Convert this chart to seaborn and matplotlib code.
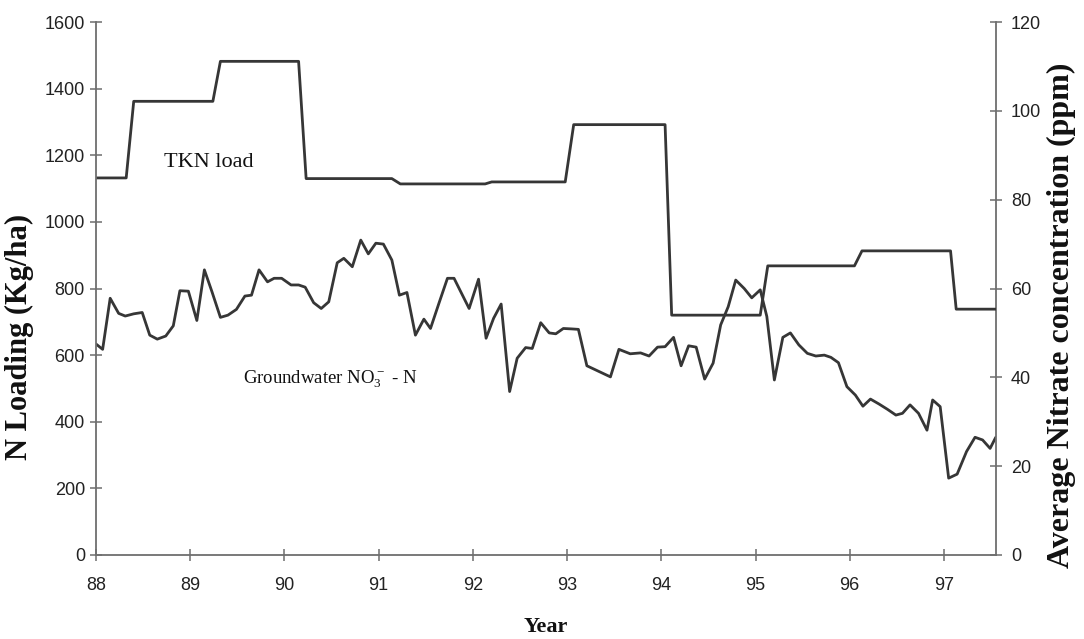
import matplotlib
matplotlib.use("Agg")
import matplotlib.pyplot as plt
import seaborn as sns
import pandas as pd

# TKN loading (kg/ha), plotted against the left axis
tkn_year = [88.00, 88.32, 88.40, 89.24, 89.32, 90.15, 90.23, 91.14, 91.23, 92.13,
            92.20, 92.98, 93.07, 94.04, 94.11, 95.05, 95.13, 96.05, 96.13, 97.07,
            97.13, 97.55]
tkn_load = [1132, 1132, 1362, 1362, 1482, 1482, 1130, 1130, 1114, 1114,
            1120, 1120, 1292, 1292, 720, 720, 868, 868, 913, 913,
            738, 738]

# Groundwater nitrate-N (ppm), plotted against the right axis
no3_year = [88.00, 88.07, 88.15, 88.24, 88.31, 88.40, 88.49, 88.57, 88.65, 88.74,
            88.82, 88.89, 88.98, 89.07, 89.15, 89.23, 89.32, 89.40, 89.49, 89.58,
            89.65, 89.73, 89.82, 89.89, 89.97, 90.07, 90.15, 90.22, 90.31, 90.39,
            90.47, 90.56, 90.63, 90.72, 90.81, 90.89, 90.97, 91.05, 91.14, 91.22,
            91.30, 91.39, 91.48, 91.55, 91.64, 91.73, 91.80, 91.88, 91.96, 92.06,
            92.14, 92.22, 92.30, 92.39, 92.47, 92.56, 92.63, 92.72, 92.81, 92.88,
            92.96, 93.05, 93.12, 93.21, 93.34, 93.46, 93.55, 93.67, 93.78, 93.87,
            93.96, 94.04, 94.13, 94.21, 94.29, 94.37, 94.46, 94.55, 94.63, 94.71,
            94.79, 94.88, 94.96, 95.05, 95.12, 95.20, 95.29, 95.37, 95.46, 95.55,
            95.64, 95.73, 95.80, 95.88, 95.97, 96.06, 96.14, 96.22, 96.31, 96.40,
            96.49, 96.56, 96.64, 96.73, 96.82, 96.88, 96.96, 97.05, 97.14, 97.24,
            97.33, 97.41, 97.49, 97.55]
no3_ppm = [47.5, 46.3, 57.8, 54.4, 53.8, 54.3, 54.6, 49.5, 48.6, 49.3,
           51.6, 59.5, 59.4, 52.8, 64.2, 59.3, 53.5, 54.0, 55.3, 58.3,
           58.5, 64.2, 61.5, 62.3, 62.3, 60.8, 60.8, 60.3, 56.8, 55.5,
           57.0, 65.8, 66.8, 64.9, 70.9, 67.8, 70.2, 70.0, 66.4, 58.5,
           59.1, 49.5, 53.1, 51.0, 56.7, 62.3, 62.3, 58.9, 55.5, 62.1,
           48.8, 53.3, 56.5, 36.8, 44.3, 46.7, 46.5, 52.3, 50.0, 49.8,
           51.0, 50.9, 50.8, 42.6, 41.3, 40.1, 46.3, 45.3, 45.5, 44.8,
           46.8, 46.9, 49.0, 42.6, 47.1, 46.8, 39.6, 43.2, 51.8, 55.9,
           61.9, 60.0, 57.9, 59.7, 53.7, 39.4, 49.0, 50.0, 47.3, 45.4,
           44.8, 45.0, 44.5, 43.3, 37.9, 36.0, 33.5, 35.1, 34.0, 32.8,
           31.5, 31.9, 33.8, 31.9, 28.1, 34.9, 33.4, 17.3, 18.2, 23.3,
           26.5, 25.9, 24.0, 26.5]

year_ticks = [88, 89, 90, 91, 92, 93, 94, 95, 96, 97]
load_ticks = [0, 200, 400, 600, 800, 1000, 1200, 1400, 1600]
ppm_ticks = [0, 20, 40, 60, 80, 100, 120]

sns.set_style("ticks")
plt.rcParams["font.family"] = ["Liberation Sans", "DejaVu Sans"]
plt.rcParams["mathtext.fontset"] = "custom"
plt.rcParams["mathtext.rm"] = "Liberation Serif"

line_color = "#363636"
axis_color = "#6e6e6e"

fig = plt.figure(figsize=(10.84, 6.39), dpi=100)
ax = fig.add_axes([0.0886, 0.1315, 0.830, 0.834])
ax2 = ax.twinx()

tkn_df = pd.DataFrame({"year": tkn_year, "load": tkn_load})
no3_df = pd.DataFrame({"year": no3_year, "ppm": no3_ppm})

sns.lineplot(data=tkn_df, x="year", y="load", ax=ax, color=line_color,
             linewidth=2.0, estimator=None, sort=False)
sns.lineplot(data=no3_df, x="year", y="ppm", ax=ax2, color=line_color,
             linewidth=2.0, estimator=None, sort=False)

ax.set_xlim(88, 97.55)
ax.set_ylim(0, 1600)
ax2.set_ylim(0, 120)
ax.set_xticks(year_ticks)
ax.set_xticklabels([str(t) for t in year_ticks])
ax.set_yticks(load_ticks)
ax.set_yticklabels([str(t) for t in load_ticks])
ax2.set_yticks(ppm_ticks)
ax2.set_yticklabels([str(t) for t in ppm_ticks])

for a in (ax, ax2):
    for side in ("left", "right", "bottom", "top"):
        a.spines[side].set_color(axis_color)
        a.spines[side].set_linewidth(1.3)
    a.spines["top"].set_visible(False)
ax.spines["right"].set_visible(False)
ax2.spines["left"].set_visible(False)
ax2.spines["bottom"].set_visible(False)

ax.tick_params(axis="x", direction="inout", length=8, width=1.1,
               color=axis_color, labelsize=13, pad=12, labelcolor="#222222")
ax.tick_params(axis="y", direction="inout", length=8, width=1.1,
               color=axis_color, labelsize=13, pad=4, labelcolor="#222222")
ax2.tick_params(axis="y", direction="inout", length=8, width=1.1,
                color=axis_color, labelsize=13, pad=7, labelcolor="#222222")

serif_bold = dict(family="Liberation Serif", weight="bold", color="#111111")
ax.set_xlabel("Year", fontsize=16, va="center", **serif_bold)
ax.set_ylabel("N Loading (Kg/ha)", fontsize=22, va="center", **serif_bold)
ax2.set_ylabel("Average Nitrate concentration (ppm)", fontsize=23,
               va="center", rotation=90, **serif_bold)
ax.xaxis.set_label_coords(0.5, -0.135)
ax.yaxis.set_label_coords(-0.085, 0.41)
ax2.yaxis.set_label_coords(1.073, 0.45)

ax.text(88.72, 1178, "TKN load", fontsize=16, family="Liberation Serif",
        va="center", ha="left", color="#111111")
ax.text(89.56, 527, r"Groundwater $\mathregular{NO_3^-}$ - N", fontsize=13.5,
        family="Liberation Serif", va="center", ha="left", color="#111111")

ax.set_zorder(ax2.get_zorder() + 1)
ax.patch.set_visible(False)

fig.savefig("out.png", dpi=100)
